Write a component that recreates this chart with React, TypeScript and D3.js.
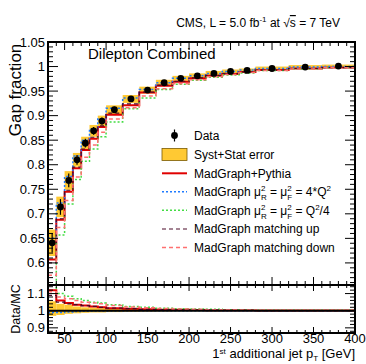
import React from "react";
import * as d3 from "d3";

const binEdges = [30, 40, 50, 60, 70, 80, 90, 100, 120, 140, 160, 180, 200, 220, 240, 260, 280, 320, 360, 400];
const dataVals = [0.641, 0.714, 0.768, 0.81, 0.844, 0.869, 0.889, 0.912, 0.934, 0.952, 0.967, 0.976, 0.981, 0.986, 0.99, 0.992, 0.996, 0.999, 1.001];
const systErr = [0.027, 0.021, 0.019, 0.014, 0.013, 0.012, 0.011, 0.009, 0.008, 0.007, 0.006, 0.005, 0.005, 0.005, 0.004, 0.004, 0.004, 0.004, 0.003];
const statErr = [0.02, 0.016, 0.014, 0.01, 0.009, 0.008, 0.007, 0.006, 0.005, 0.004, 0.004, 0.003, 0.003, 0.003, 0.003, 0.003, 0.003, 0.003, 0.002];
const mgPythia = [0.607, 0.688, 0.745, 0.793, 0.83, 0.853, 0.877, 0.902, 0.921, 0.947, 0.961, 0.969, 0.976, 0.981, 0.985, 0.989, 0.993, 0.996, 0.998];
const mgScaleUp = [0.65, 0.722, 0.776, 0.818, 0.85, 0.873, 0.893, 0.915, 0.936, 0.953, 0.967, 0.976, 0.981, 0.986, 0.99, 0.993, 0.996, 0.999, 1.0];
const mgScaleDown = [0.548, 0.657, 0.72, 0.77, 0.807, 0.832, 0.857, 0.887, 0.914, 0.936, 0.953, 0.964, 0.972, 0.978, 0.983, 0.987, 0.992, 0.995, 0.998];
const mgMatchUp = [0.6, 0.69, 0.748, 0.795, 0.832, 0.856, 0.879, 0.905, 0.924, 0.948, 0.962, 0.97, 0.977, 0.982, 0.986, 0.989, 0.993, 0.996, 0.998];
const mgMatchDown = [0.575, 0.672, 0.727, 0.775, 0.815, 0.84, 0.866, 0.893, 0.916, 0.94, 0.955, 0.965, 0.973, 0.979, 0.984, 0.988, 0.992, 0.995, 0.998];

const ratioBandUp = [1.055, 1.04, 1.035, 1.025, 1.02, 1.018, 1.015, 1.012, 1.01, 1.008, 1.006, 1.005, 1.004, 1.004, 1.003, 1.003, 1.003, 1.003, 1.002];
const ratioBandDown = [0.97, 0.975, 0.982, 0.985, 0.988, 0.99, 0.99, 0.992, 0.994, 0.995, 0.996, 0.997, 0.997, 0.997, 0.998, 0.998, 0.998, 0.998, 0.998];
const ratioPythia = [1.12, 1.06, 1.045, 1.035, 1.03, 1.025, 1.02, 1.015, 1.012, 1.008, 1.006, 1.005, 1.004, 1.003, 1.002, 1.002, 1.001, 1.001, 1.001];
const ratioScaleUp = [0.99, 0.99, 0.993, 0.995, 0.997, 0.998, 0.999, 0.999, 1.0, 1.0, 1.0, 1.0, 1.0, 1.0, 1.0, 1.0, 1.0, 1.0, 1.0];
const ratioScaleDown = [1.16, 1.1, 1.085, 1.07, 1.06, 1.05, 1.045, 1.035, 1.025, 1.02, 1.015, 1.012, 1.01, 1.008, 1.006, 1.004, 1.003, 1.002, 1.002];
const ratioMatchUp = [1.09, 1.05, 1.04, 1.035, 1.03, 1.025, 1.02, 1.015, 1.012, 1.008, 1.006, 1.005, 1.004, 1.003, 1.002, 1.002, 1.001, 1.001, 1.001];
const ratioMatchDown = [1.11, 1.08, 1.07, 1.06, 1.05, 1.045, 1.04, 1.03, 1.022, 1.017, 1.013, 1.01, 1.008, 1.006, 1.005, 1.004, 1.003, 1.002, 1.002];

const xMajor = [50, 100, 150, 200, 250, 300, 350, 400];
const mainYMajor = [0.6, 0.65, 0.7, 0.75, 0.8, 0.85, 0.9, 0.95, 1.0, 1.05];
const ratioYMajor = [0.9, 1.0, 1.1];

const C = {
  band: "#ffc933",
  red: "#e00000",
  blue: "#1f7bff",
  green: "#44dd44",
  dark: "#4a0a28",
  pink: "#ff7070",
};

const L = 48, R = 355, T = 42, MB = 285, RB = 333;
const FONT = "'Liberation Sans', Arial, Helvetica, sans-serif";

const x = d3.scaleLinear().domain([30, 400]).range([L, R]);
const y = d3.scaleLinear().domain([0.555, 1.05]).range([MB, T]);
const yr = d3.scaleLinear().domain([0.87, 1.15]).range([RB, MB]);

const fmt = (v: number) => String(+v.toFixed(2));

function stepPath(vals: number[], ys: d3.ScaleLinear<number, number>) {
  const pts: [number, number][] = [];
  vals.forEach((v, i) => {
    pts.push([x(binEdges[i]), ys(v)]);
    pts.push([x(binEdges[i + 1]), ys(v)]);
  });
  return d3.line()(pts) || "";
}

const series = [
  { main: mgPythia, ratio: ratioPythia, color: C.red, width: 2, dash: undefined as string | undefined },
  { main: mgScaleUp, ratio: ratioScaleUp, color: C.blue, width: 1.5, dash: "2,2" },
  { main: mgScaleDown, ratio: ratioScaleDown, color: C.green, width: 1.5, dash: "2,2" },
  { main: mgMatchUp, ratio: ratioMatchUp, color: C.dark, width: 1.2, dash: "4,3" },
  { main: mgMatchDown, ratio: ratioMatchDown, color: C.pink, width: 1.5, dash: "4,3" },
];

function XTicks({ top, bottom, major, minor }: { top: number; bottom: number; major: number; minor: number }) {
  const minors = d3.range(30, 401, 10);
  return (
    <g stroke="#000" strokeWidth={1}>
      {minors.map((v) => {
        const isMaj = xMajor.includes(v);
        const len = isMaj ? major : minor;
        return (
          <g key={v}>
            <line x1={x(v)} x2={x(v)} y1={bottom} y2={bottom - len} />
            <line x1={x(v)} x2={x(v)} y1={top} y2={top + len} />
          </g>
        );
      })}
    </g>
  );
}

function YTicks({ ys, minors, majors, major, minor }: { ys: d3.ScaleLinear<number, number>; minors: number[]; majors: number[]; major: number; minor: number }) {
  return (
    <g stroke="#000" strokeWidth={1}>
      {minors.map((v, i) => {
        const isMaj = majors.some((m) => Math.abs(m - v) < 1e-6);
        const len = isMaj ? major : minor;
        return (
          <g key={i}>
            <line x1={L} x2={L + len} y1={ys(v)} y2={ys(v)} />
            <line x1={R} x2={R - len} y1={ys(v)} y2={ys(v)} />
          </g>
        );
      })}
    </g>
  );
}

export default function App() {
  const mainMinors = d3.range(56, 106).map((v) => v / 100);
  const ratioMinors = d3.range(44, 58).map((v) => v / 50);
  const legX1 = 162, legX2 = 187, legT = 194;
  const rows = [135.5, 154.5, 173.3, 191.7, 210.3, 229, 247.5];
  return (
    <svg width={366} height={364} style={{ position: "absolute", left: 0, top: 0, background: "#fff" }} fontFamily={FONT}>
      <defs>
        <clipPath id="mainClip"><rect x={L} y={T} width={R - L} height={MB - T} /></clipPath>
        <clipPath id="ratioClip"><rect x={L} y={MB} width={R - L} height={RB - MB} /></clipPath>
      </defs>
      <rect width={366} height={364} fill="#fff" />

      {/* main panel */}
      <g clipPath="url(#mainClip)">
        {dataVals.map((d, i) => (
          <rect key={i} x={x(binEdges[i])} width={x(binEdges[i + 1]) - x(binEdges[i])} y={y(d + systErr[i])} height={y(d - systErr[i]) - y(d + systErr[i])} fill={C.band} />
        ))}
        {series.map((s, k) => (
          <path key={k} d={stepPath(s.main, y)} fill="none" stroke={s.color} strokeWidth={s.width} strokeDasharray={s.dash} />
        ))}
        {dataVals.map((d, i) => {
          const cx = x((binEdges[i] + binEdges[i + 1]) / 2);
          return (
            <g key={i}>
              <line x1={cx} x2={cx} y1={y(d + statErr[i])} y2={y(d - statErr[i])} stroke="#000" strokeWidth={1.2} />
              <circle cx={cx} cy={y(d)} r={3.4} fill="#000" />
            </g>
          );
        })}
      </g>

      {/* ratio panel */}
      <g clipPath="url(#ratioClip)">
        {ratioBandUp.map((u, i) => (
          <rect key={i} x={x(binEdges[i])} width={x(binEdges[i + 1]) - x(binEdges[i])} y={yr(u)} height={yr(ratioBandDown[i]) - yr(u)} fill={C.band} />
        ))}
        {series.map((s, k) => (
          <path key={k} d={stepPath(s.ratio, yr)} fill="none" stroke={s.color} strokeWidth={s.width} strokeDasharray={s.dash} />
        ))}
        <line x1={L} x2={R} y1={yr(1)} y2={yr(1)} stroke="#000" strokeWidth={2} />
      </g>

      {/* ticks */}
      <XTicks top={T} bottom={MB} major={8} minor={4} />
      <XTicks top={MB} bottom={RB} major={6} minor={3} />
      <YTicks ys={y} minors={mainMinors} majors={mainYMajor} major={10} minor={5} />
      <YTicks ys={yr} minors={ratioMinors} majors={ratioYMajor} major={10} minor={5} />

      {/* frames */}
      <rect x={L} y={T} width={R - L} height={MB - T} fill="none" stroke="#000" strokeWidth={2} />
      <rect x={L} y={MB} width={R - L} height={RB - MB} fill="none" stroke="#000" strokeWidth={2} />

      {/* tick labels */}
      <g fontSize={13} fill="#000" textAnchor="end">
        {mainYMajor.map((v) => (
          <text key={v} x={45} y={y(v) + 4.5}>{fmt(v)}</text>
        ))}
        {ratioYMajor.map((v) => (
          <text key={v} x={45} y={yr(v) + 4.5}>{fmt(v)}</text>
        ))}
      </g>
      <g fontSize={13} fill="#000" textAnchor="middle">
        {xMajor.map((v) => (
          <text key={v} x={x(v)} y={343}>{v}</text>
        ))}
      </g>

      {/* axis titles */}
      <text transform={`translate(21,90) rotate(-90)`} textAnchor="middle" fontSize={17}>Gap fraction</text>
      <text transform={`translate(20,309) rotate(-90)`} textAnchor="middle" fontSize={12.5}>Data/MC</text>
      <text x={355} y={358} textAnchor="end" fontSize={13}>
        1<tspan fontSize={8} dy={-4}>st</tspan><tspan dy={4}> additional jet p</tspan><tspan fontSize={8} dy={2.5}>T</tspan><tspan dy={-2.5}> [GeV]</tspan>
      </text>

      {/* header */}
      <text x={340} y={27} textAnchor="end" fontSize={12}>
        CMS, L = 5.0 fb<tspan fontSize={8} dy={-5}>-1</tspan><tspan dy={5}> at </tspan>√<tspan style={{ textDecoration: "overline" }}>s</tspan> = 7 TeV
      </text>
      <text x={88} y={59} fontSize={15}>Dilepton Combined</text>

      {/* legend */}
      <g fontSize={12} fill="#000">
        <line x1={(legX1 + legX2) / 2} x2={(legX1 + legX2) / 2} y1={rows[0] - 6} y2={rows[0] + 6} stroke="#000" strokeWidth={1.2} />
        <circle cx={(legX1 + legX2) / 2} cy={rows[0]} r={3.4} fill="#000" />
        <text x={legT} y={rows[0] + 4.3}>Data</text>

        <rect x={legX1} y={rows[1] - 6} width={legX2 - legX1} height={12} fill={C.band} stroke="#7a5a00" strokeWidth={0.8} />
        <text x={legT} y={rows[1] + 4.3}>Syst+Stat error</text>

        {series.map((s, k) => (
          <line key={k} x1={legX1} x2={legX2} y1={rows[k + 2]} y2={rows[k + 2]} stroke={s.color} strokeWidth={s.width} strokeDasharray={s.dash} />
        ))}
        <text x={legT} y={rows[2] + 4.3}>MadGraph+Pythia</text>
        <text x={legT} y={rows[3] + 4.3}>
          MadGraph μ<tspan fontSize={8} dy={-5}>2</tspan><tspan fontSize={8} dx={-4.5} dy={9}>R</tspan><tspan dy={-4}> = μ</tspan><tspan fontSize={8} dy={-5}>2</tspan><tspan fontSize={8} dx={-4.5} dy={9}>F</tspan><tspan dy={-4}> = 4*Q</tspan><tspan fontSize={8} dy={-5}>2</tspan>
        </text>
        <text x={legT} y={rows[4] + 4.3}>
          MadGraph μ<tspan fontSize={8} dy={-5}>2</tspan><tspan fontSize={8} dx={-4.5} dy={9}>R</tspan><tspan dy={-4}> = μ</tspan><tspan fontSize={8} dy={-5}>2</tspan><tspan fontSize={8} dx={-4.5} dy={9}>F</tspan><tspan dy={-4}> = Q</tspan><tspan fontSize={8} dy={-5}>2</tspan><tspan dy={5}>/4</tspan>
        </text>
        <text x={legT} y={rows[5] + 4.3}>MadGraph matching up</text>
        <text x={legT} y={rows[6] + 4.3}>MadGraph matching down</text>
      </g>
    </svg>
  );
}
